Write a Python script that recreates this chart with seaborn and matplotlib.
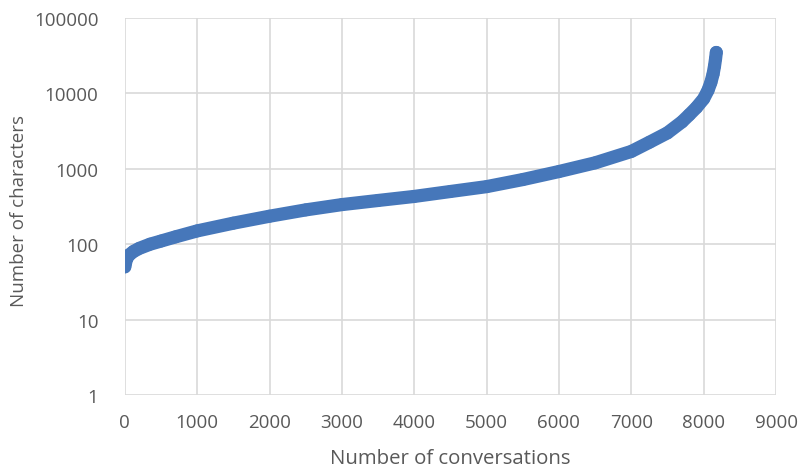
import matplotlib
matplotlib.use("Agg")
import matplotlib.pyplot as plt
import seaborn as sns
import pandas as pd
from matplotlib.ticker import FixedLocator, FixedFormatter, NullLocator

# Values (sorted conversation lengths)
conversation_index = [0, 10, 25, 60, 120, 200, 350, 500, 700, 1000, 1500, 2000, 2500,
                      3000, 3500, 4000, 4500, 5000, 5500, 6000, 6500, 7000, 7250,
                      7500, 7700, 7800, 7900, 8000, 8060, 8100, 8130, 8150, 8165, 8175]
num_characters = [50, 56, 64, 72, 80, 88, 100, 110, 125, 150, 190, 235, 285,
                  335, 380, 430, 500, 580, 720, 920, 1200, 1700, 2250,
                  3000, 4200, 5200, 6500, 8500, 11000, 14000, 18000, 23000, 29000, 35000]

x_ticks = [0, 1000, 2000, 3000, 4000, 5000, 6000, 7000, 8000, 9000]
y_ticks = [1, 10, 100, 1000, 10000, 100000]
y_tick_labels = ["1", "10", "100", "1000", "10000", "100000"]

df = pd.DataFrame({"x": conversation_index, "y": num_characters})

sns.set_theme(style="white")
plt.rcParams["font.family"] = ["Open Sans", "DejaVu Sans"]

fig = plt.figure(figsize=(8, 4.77), dpi=100)
ax = fig.add_axes([0.156, 0.170, 0.814, 0.790])

blue = "#4677BA"
sns.lineplot(data=df, x="x", y="y", ax=ax, color=blue, linewidth=9.5,
             solid_capstyle="round", solid_joinstyle="round", zorder=3)
sns.scatterplot(data=df, x="x", y="y", ax=ax, color=blue, s=85,
                edgecolor="none", zorder=4)

ax.set_yscale("log")
ax.set_xlim(0, 9000)
ax.set_ylim(1, 100000)
ax.xaxis.set_major_locator(FixedLocator(x_ticks))
ax.set_xticklabels([str(t) for t in x_ticks])
ax.yaxis.set_major_locator(FixedLocator(y_ticks))
ax.yaxis.set_major_formatter(FixedFormatter(y_tick_labels))
ax.yaxis.set_minor_locator(NullLocator())

ax.grid(True, which="major", color="#d9d9d9", linewidth=1.2)
ax.set_axisbelow(True)
for sp in ax.spines.values():
    sp.set_visible(False)

ax.tick_params(axis="both", which="both", length=0, labelsize=13.5, labelcolor="#595959")
ax.tick_params(axis="y", pad=19)
ax.tick_params(axis="x", pad=13)

ax.set_xlabel("Number of conversations", fontsize=14.7, color="#595959", labelpad=12)
ax.set_ylabel("Number of characters", fontsize=13.5, color="#595959")
ax.yaxis.set_label_coords(-0.148, 0.49)

fig.savefig("out.png", dpi=100)
